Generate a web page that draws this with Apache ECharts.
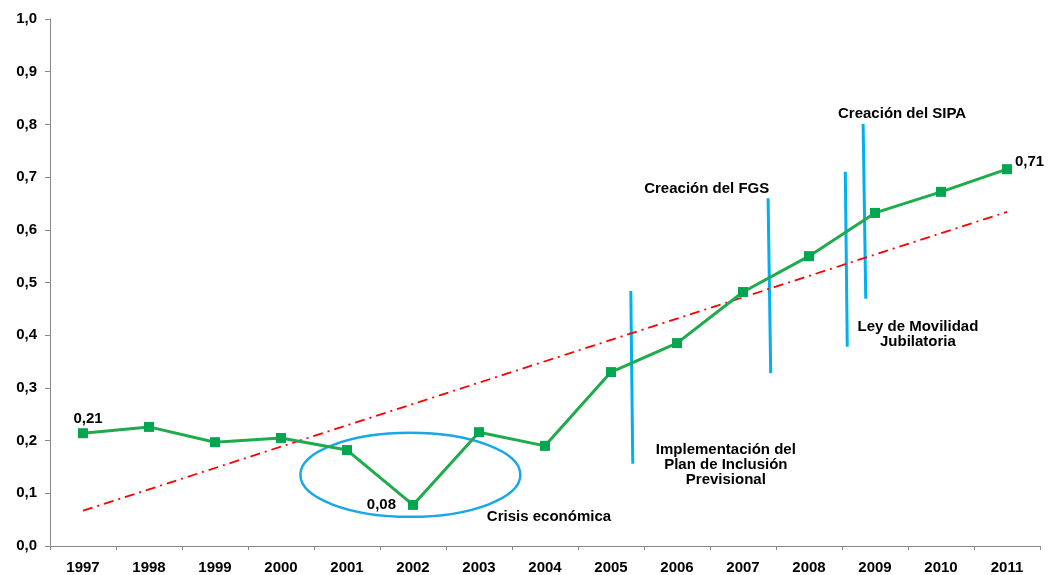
<!DOCTYPE html>
<html><head><meta charset="utf-8">
<script src="https://cdn.jsdelivr.net/npm/echarts@6/dist/echarts.min.js"></script>
<style>html,body{margin:0;padding:0;background:#fff}#c{width:1049px;height:575px}</style>
</head><body><div id="c"></div>
<script>
const years = ['1997','1998','1999','2000','2001','2002','2003','2004','2005','2006','2007','2008','2009','2010','2011'];
const values = [0.214,0.226,0.197,0.205,0.182,0.078,0.216,0.190,0.330,0.385,0.482,0.550,0.632,0.672,0.715];
const trendEnds = [[0,0.067],[14,0.634]];
const eventLines = [
  [[8.30,0.484],[8.33,0.156]],
  [[10.38,0.660],[10.42,0.328]],
  [[11.55,0.710],[11.58,0.378]],
  [[11.82,0.801],[11.86,0.469]]
];
const eventTexts = [
  {pos:[12.41,0.834], lines:['Creación del SIPA']},
  {pos:[9.45,0.692], lines:['Creación del FGS']},
  {pos:[12.65,0.430], lines:['Ley de Movilidad','Jubilatoria']},
  {pos:[9.74,0.1965], lines:['Implementación del','Plan de Inclusión','Previsional']},
  {pos:[7.06,0.069], lines:['Crisis económica']}
];
const crisisEllipse = {center:[4.96,0.135], rx:110, ry:42};

const font = 'Liberation Sans, Arial, Helvetica, sans-serif';
const chart = echarts.init(document.getElementById('c'));
const fmt = v => v.toFixed(2).replace('.',',');
const labelCfg = {
  0:{position:'top',distance:2,offset:[5,0]},
  5:{position:'left',distance:12},
  14:{position:'right',distance:3,offset:[0,-7]}
};
const lineSeries = eventLines.map(pts => ({
  type:'line', xAxisIndex:1, yAxisIndex:0, data:pts, symbol:'none', silent:true,
  lineStyle:{color:'#00B0F0', width:3}, z:1
}));
chart.setOption({
  animation:false,
  grid:{left:50,right:9,top:19,bottom:29},
  xAxis:[{
    type:'category', data:years, boundaryGap:true,
    axisLine:{lineStyle:{color:'#888',width:1}},
    axisTick:{show:true,alignWithLabel:false,lineStyle:{color:'#888'},length:4},
    axisLabel:{color:'#000',fontWeight:'bold',fontSize:15,fontFamily:font,margin:14}
  },{
    type:'value', min:-0.5, max:14.5, show:false
  }],
  yAxis:{
    type:'value', min:0, max:1, interval:0.1,
    axisLine:{show:true,onZero:false,lineStyle:{color:'#888'}},
    axisTick:{show:true,lineStyle:{color:'#888'},length:5},
    splitLine:{show:false},
    axisLabel:{color:'#000',fontWeight:'bold',fontSize:15,fontFamily:font,margin:13,
      formatter:v=>v.toFixed(1).replace('.',',')}
  },
  series:[
    {type:'line', xAxisIndex:1, data:trendEnds, symbol:'none', silent:true,
     lineStyle:{color:'#FF0000',width:1.8,type:[10,5,2,5]}, z:2},
    ...lineSeries,
    {type:'line', data:values.map((v,i)=>({value:v,
        label:Object.assign({show: labelCfg[i]!==undefined}, labelCfg[i]||{})})),
     symbol:'rect', symbolSize:10,
     itemStyle:{color:'#00A650'},
     lineStyle:{color:'#1DAB4C',width:3},
     label:{formatter:p=>fmt(p.value),color:'#000',fontWeight:'bold',fontSize:15,fontFamily:font},
     z:5}
  ]
});
const toPx = p => chart.convertToPixel({xAxisIndex:1,yAxisIndex:0}, p);
const graphics = [];
const ec = toPx(crisisEllipse.center);
graphics.push({type:'ellipse', shape:{cx:ec[0],cy:ec[1],rx:crisisEllipse.rx,ry:crisisEllipse.ry},
  style:{fill:null,stroke:'#1AA7E8',lineWidth:2.5}, z:3});
eventTexts.forEach(t=>{
  const p = toPx(t.pos);
  graphics.push({type:'text', x:p[0], y:p[1], z:10,
    style:{text:t.lines.join('\n'), fill:'#000', font:'bold 15px '+font, align:'center', verticalAlign:'top', lineHeight:15}});
});
chart.setOption({graphic:graphics});
</script></body></html>
